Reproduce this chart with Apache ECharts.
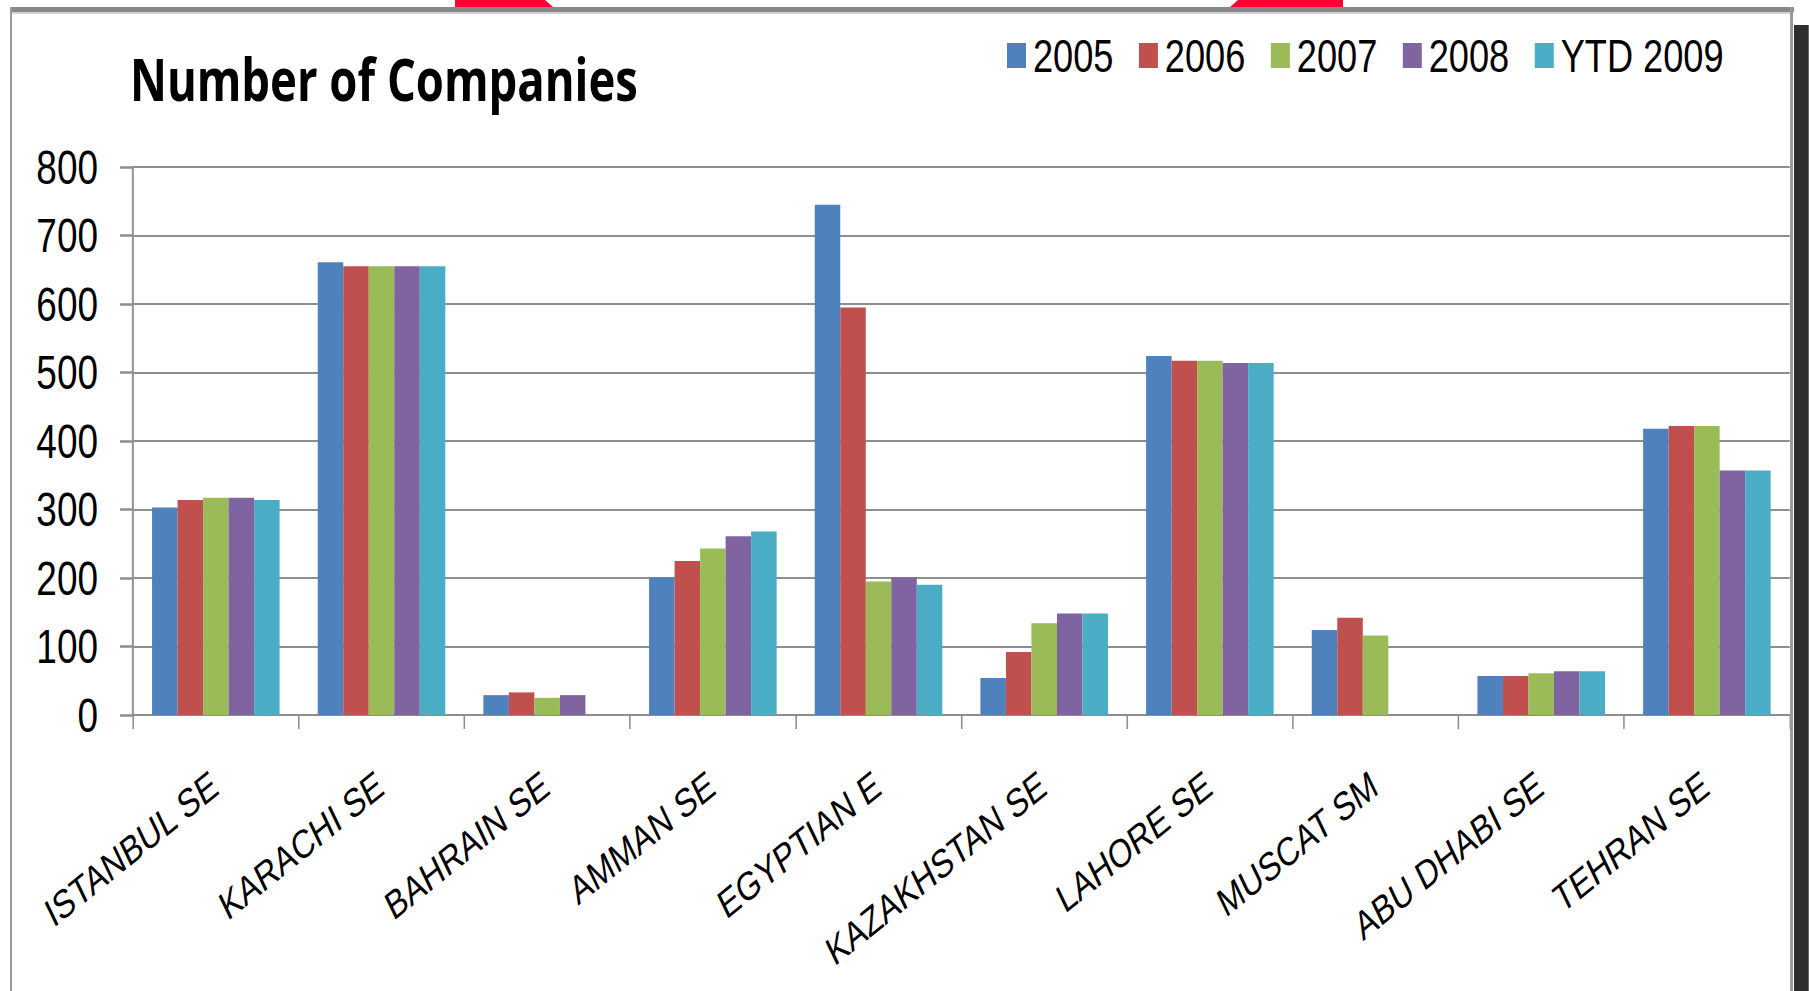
<!DOCTYPE html>
<html>
<head>
<meta charset="utf-8">
<script src="https://cdn.jsdelivr.net/npm/echarts@6/dist/echarts.min.js"></script>
<style>
html,body{margin:0;padding:0;background:#fff;overflow:hidden;width:1809px;height:991px;}
#chart{height:991px;transform-origin:0 0;}
</style>
</head>
<body>
<div id="chart"></div>
<script>
const categories = ['ISTANBUL SE','KARACHI SE','BAHRAIN SE','AMMAN SE','EGYPTIAN E','KAZAKHSTAN SE','LAHORE SE','MUSCAT SM','ABU DHABI SE','TEHRAN SE'];
const seriesNames = ['2005','2006','2007','2008','YTD 2009'];
const v2005 = [303, 661, 29, 201, 745, 54, 524, 124, 57, 418];
const v2006 = [314, 655, 33, 225, 595, 92, 517, 142, 57, 422];
const v2007 = [317, 655, 25, 243, 195, 134, 517, 116, 61, 422];
const v2008 = [317, 655, 29, 261, 201, 148, 514, null, 64, 357];
const vYtd2009 = [314, 655, null, 268, 190, 148, 514, null, 64, 357];
const yTicks = [0, 100, 200, 300, 400, 500, 600, 700, 800];

const colors = ['#4f81bd','#c0504d','#9bbb59','#8064a2','#4bacc6'];
const allValues = [v2005, v2006, v2007, v2008, vYtd2009];

// The reference is a horizontally condensed picture: draw wide, then condense.
const S = 0.77;
const X = x => x / S;
const el = document.getElementById('chart');
el.style.width = X(1809) + 'px';
el.style.transform = 'scaleX(' + S + ')';

const arial = '"Liberation Sans", Arial, sans-serif';
const chart = echarts.init(el, null, {renderer: 'svg'});
chart.setOption({
  backgroundColor: '#ffffff',
  animation: false,
  color: colors,
  title: {
    text: 'Number of Companies',
    left: X(130), top: 49, padding: 0,
    textStyle: {fontFamily: '"Open Sans", Lato, sans-serif', fontWeight: 'bold', fontSize: 59, color: '#000'}
  },
  legend: {
    data: seriesNames,
    left: X(1007), top: 32, padding: 0,
    itemWidth: X(19), itemHeight: 25, itemGap: X(25.5),
    icon: 'rect',
    textStyle: {fontFamily: arial, fontSize: 47, color: '#000', padding: [0, 0, 0, 4]}
  },
  grid: {left: X(133), right: X(19), top: 167, bottom: 276, containLabel: false},
  xAxis: {
    type: 'category',
    data: categories,
    axisLine: {lineStyle: {color: '#8e8e8e', width: 2}},
    axisTick: {show: true, length: 14, lineStyle: {color: '#8e8e8e', width: 2}},
    axisLabel: {rotate: 32, margin: 42, interval: 0, verticalAlign: 'top', padding: [0, 14, 0, 0],
      fontFamily: arial, fontSize: 40, color: '#000'}
  },
  yAxis: {
    type: 'value',
    min: yTicks[0], max: yTicks[yTicks.length - 1], interval: 100,
    axisLine: {show: true, lineStyle: {color: '#8e8e8e', width: 2.5}},
    axisTick: {show: true, length: X(13), lineStyle: {color: '#8e8e8e', width: 2.5}},
    axisLabel: {margin: X(35), fontFamily: arial, fontSize: 48, color: '#000'},
    splitLine: {lineStyle: {color: '#8e8e8e', width: 2}}
  },
  series: seriesNames.map((n, i) => ({
    name: n,
    type: 'bar',
    data: allValues[i],
    barGap: '0%',
    barCategoryGap: '23%'
  })),
  graphic: [
    {type: 'polygon', shape: {points: [[X(455),0],[X(545),0],[X(553),7],[X(455),7]]}, style: {fill: '#ff0033'}, z: 100},
    {type: 'polygon', shape: {points: [[X(1238),0],[X(1343),0],[X(1343),7],[X(1230),7]]}, style: {fill: '#ff0033'}, z: 100},
    {type: 'rect', shape: {x: X(10), y: 7, width: X(1784), height: 5}, style: {fill: '#888888'}, z: 100},
    {type: 'rect', shape: {x: X(12), y: 12, width: X(1778), height: 2}, style: {fill: '#d4d4d4'}, z: 100},
    {type: 'rect', shape: {x: X(10), y: 7, width: X(2), height: 984}, style: {fill: '#999999'}, z: 100},
    {type: 'rect', shape: {x: X(1790), y: 7, width: X(3), height: 984}, style: {fill: '#9a9a9a'}, z: 100},
    {type: 'rect', shape: {x: X(1794), y: 25, width: X(15), height: 966}, style: {fill: '#2e2e2e'}, z: 100}
  ]
});
</script>
</body>
</html>
